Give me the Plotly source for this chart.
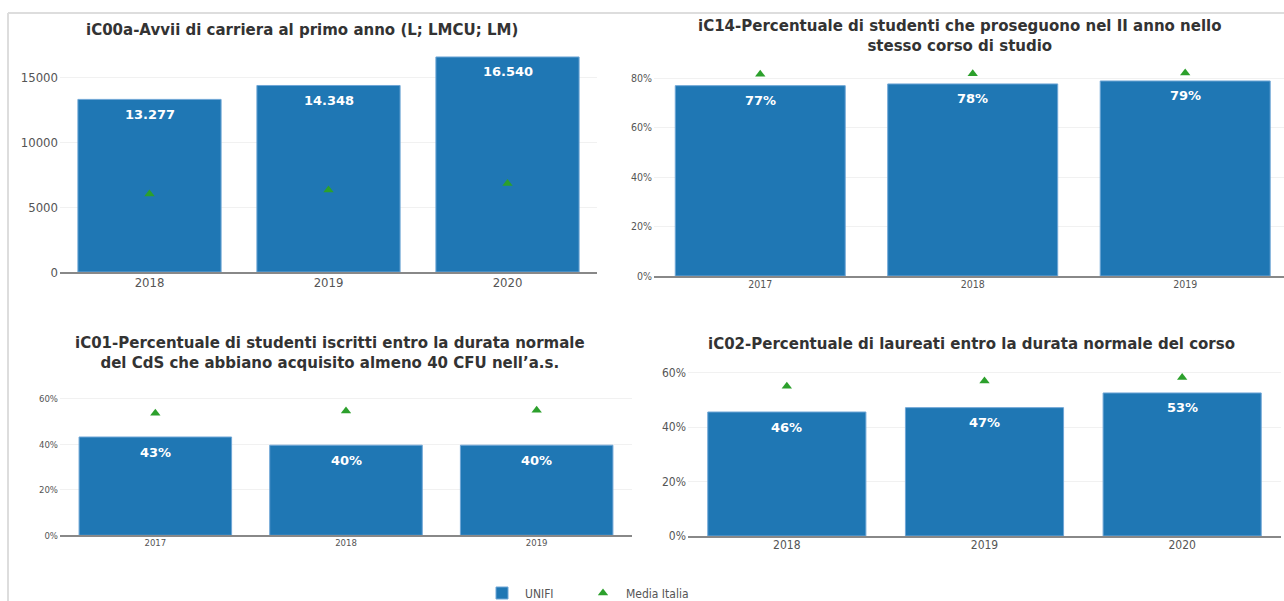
import plotly.graph_objects as go

# iC00a - avvii di carriera
anni_c00 = ["2018", "2019", "2020"]
unifi_c00 = [13277, 14348, 16540]
italia_c00 = [6000, 6300, 6800]

# iC14 - prosecuzione al II anno (%)
anni_c14 = ["2017", "2018", "2019"]
unifi_c14 = [76.9, 77.6, 78.8]
italia_c14 = [81.5, 81.7, 82.0]

# iC01 - studenti con almeno 40 CFU (%)
anni_c01 = ["2017", "2018", "2019"]
unifi_c01 = [43.2, 39.6, 39.6]
italia_c01 = [53.6, 54.6, 55.0]

# iC02 - laureati entro la durata normale (%)
anni_c02 = ["2018", "2019", "2020"]
unifi_c02 = [45.6, 47.2, 52.6]
italia_c02 = [55.1, 57.0, 58.3]

titoli = [
    "iC00a-Avvii di carriera al primo anno (L; LMCU; LM)",
    "iC14-Percentuale di studenti che proseguono nel II anno nello<br>stesso corso di studio",
    "iC01-Percentuale di studenti iscritti entro la durata normale<br>del CdS che abbiano acquisito almeno 40 CFU nell\u2019a.s.",
    "iC02-Percentuale di laureati entro la durata normale del corso",
]

BLU = "#1f77b4"
VERDE = "#2ca02c"
FONT = "DejaVu Sans"
TICKFONT = "DejaVu Sans Condensed, DejaVu Sans"
W, H = 1284, 601


def px_x(p):
    return p / W


def px_y(p):
    return 1 - p / H


pannelli = [
    dict(anni=anni_c00, unifi=unifi_c00, italia=italia_c00, ax="", xd=[60, 597], yd=[272, 44.5],
         yr=[0, 17500], dtick=5000, suffix="", tick=13, fmt=lambda v: f"{v:,}".replace(",", "."),
         xr=[-0.5, 2.5], tpos=(302, 30)),
    dict(anni=anni_c14, unifi=unifi_c14, italia=italia_c14, ax="2", xd=[654, 1284], yd=[276, 58.2],
         yr=[0, 88], dtick=20, suffix="%", tick=10.5, fmt=lambda v: f"{round(v)}%",
         xr=[-0.5, 2.465], tpos=(960, 36)),
    dict(anni=anni_c01, unifi=unifi_c01, italia=italia_c01, ax="3", xd=[60, 632], yd=[535.3, 387.4],
         yr=[0, 65], dtick=20, suffix="%", tick=9.5, fmt=lambda v: f"{round(v)}%",
         xr=[-0.5, 2.5], tpos=(330, 353)),
    dict(anni=anni_c02, unifi=unifi_c02, italia=italia_c02, ax="4", xd=[688, 1281], yd=[536, 367.4],
         yr=[0, 62], dtick=20, suffix="%", tick=12, fmt=lambda v: f"{round(v)}%",
         xr=[-0.5, 2.5], tpos=(971, 344)),
]

fig = go.Figure()
annotations = []
layout_axes = {}

for i, p in enumerate(pannelli):
    xa = "x" + p["ax"]
    ya = "y" + p["ax"]
    fig.add_trace(go.Bar(
        x=p["anni"], y=p["unifi"], name="UNIFI", xaxis=xa, yaxis=ya,
        marker=dict(color=BLU, line=dict(color="#6fa6d6", width=1)),
        width=0.8, showlegend=(i == 0), legend="legend", hoverinfo="x+y",
    ))
    fig.add_trace(go.Scatter(
        x=p["anni"], y=p["italia"], name="Media Italia", xaxis=xa, yaxis=ya,
        mode="markers", marker=dict(symbol="triangle-up", size=9, color=VERDE),
        showlegend=(i == 0), legend="legend2",
    ))
    # etichette dentro le barre (indice di categoria sull'asse categoriale)
    for j, v in enumerate(p["unifi"]):
        annotations.append(dict(
            x=j, y=v, xref=xa, yref=ya, text="<b>" + p["fmt"](v) + "</b>", showarrow=False,
            yshift=-15, font=dict(family=FONT, size=13, color="white"),
        ))
    annotations.append(dict(
        x=px_x(p["tpos"][0]), y=px_y(p["tpos"][1]), xref="paper", yref="paper",
        xanchor="center", yanchor="middle",
        text="<b>" + titoli[i] + "</b>", showarrow=False, align="center",
        font=dict(family=FONT, size=15, color="#333333"),
    ))
    layout_axes["xaxis" + p["ax"]] = dict(
        type="category", range=p["xr"],
        domain=[px_x(p["xd"][0]), px_x(p["xd"][1])], anchor=ya,
        showline=True, linecolor="#888888", linewidth=2, showgrid=False,
        tickfont=dict(family=TICKFONT, size=p["tick"], color="#555555"),
        ticks="", ticklabelstandoff=-3, fixedrange=True,
    )
    layout_axes["yaxis" + p["ax"]] = dict(
        domain=[px_y(p["yd"][0]), px_y(p["yd"][1])], anchor=xa,
        range=p["yr"], dtick=p["dtick"], ticksuffix=p["suffix"], tickformat="d",
        showgrid=True, gridcolor="#f1f1f1", gridwidth=1, zeroline=False,
        tickfont=dict(family=TICKFONT, size=p["tick"], color="#555555"),
        ticks="", ticklabelstandoff=1, fixedrange=True,
    )

legend_style = dict(orientation="h", xanchor="left", yanchor="middle", y=px_y(593),
                    font=dict(family=TICKFONT, size=12, color="#555555"), itemwidth=36)

fig.update_layout(
    width=W, height=H,
    margin=dict(l=0, r=0, t=0, b=0, autoexpand=False),
    paper_bgcolor="white", plot_bgcolor="white",
    font=dict(family=FONT, color="#555555"),
    separators=",.",
    annotations=annotations,
    legend=dict(x=px_x(479), **legend_style),
    legend2=dict(x=px_x(580), **legend_style),
    shapes=[
        dict(type="line", xref="paper", yref="paper", x0=px_x(8), x1=1, y0=px_y(13), y1=px_y(13),
             line=dict(color="#dddddd", width=2)),
        dict(type="line", xref="paper", yref="paper", x0=px_x(8), x1=px_x(8), y0=0, y1=px_y(13),
             line=dict(color="#dddddd", width=2)),
    ],
    **layout_axes,
)

fig.write_html("out.html", config={"displayModeBar": False},
               post_script="document.body.style.margin='0';")
